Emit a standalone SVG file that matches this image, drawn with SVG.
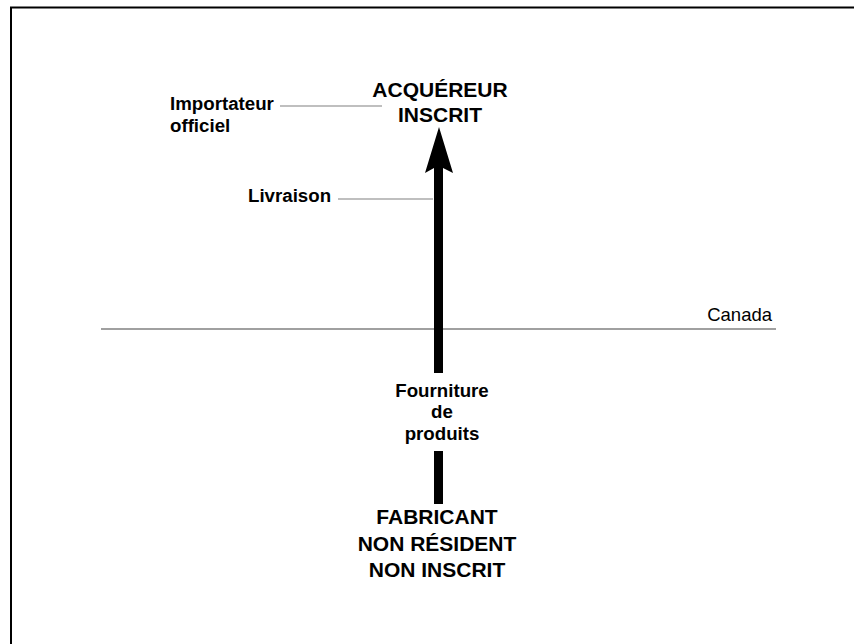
<svg xmlns="http://www.w3.org/2000/svg" width="854" height="644" viewBox="0 0 854 644">
<style>
text{font-family:"Liberation Sans",Arial,sans-serif;fill:#000}
.big{font-size:21px;font-weight:bold;text-anchor:middle}
.lbl{font-size:18.7px;font-weight:bold}
.mid{text-anchor:middle}
.lead{stroke:#808080;stroke-width:1.2;fill:none}
.shaft{fill:#000}
</style>
<rect width="854" height="644" fill="#fff"/>
<path d="M11,644 V7.5 H854" fill="none" stroke="#000" stroke-width="2"/>
<g id="border-line">
<line x1="101" y1="329" x2="776" y2="329" stroke="#808080" stroke-width="1.6"/>
<text x="772" y="320.5" font-size="18.5" text-anchor="end">Canada</text>
</g>
<g id="connectors">
<path class="shaft" d="M439,127 L453,173 L443,168 L443,373 L434,373 L434,168 L425,173 Z"/>
<rect class="shaft" x="434" y="451" width="9" height="53"/>
<line class="lead" x1="280" y1="106" x2="382" y2="106"/>
<line class="lead" x1="338" y1="199" x2="433" y2="199"/>
</g>
<g id="node-acquereur">
<text class="big" x="440" y="96.5">ACQUÉREUR</text>
<text class="big" x="440" y="122">INSCRIT</text>
</g>
<g id="node-fabricant">
<text class="big" x="437" y="524">FABRICANT</text>
<text class="big" x="437" y="550.5">NON RÉSIDENT</text>
<text class="big" x="437" y="577">NON INSCRIT</text>
</g>
<g id="label-importateur">
<text class="lbl" x="170" y="110">Importateur</text>
<text class="lbl" x="170" y="131.7">officiel</text>
</g>
<g id="label-livraison">
<text class="lbl" x="248" y="201.5">Livraison</text>
</g>
<g id="label-fourniture">
<text class="lbl mid" x="442" y="396.5">Fourniture</text>
<text class="lbl mid" x="442" y="418">de</text>
<text class="lbl mid" x="442" y="439.5">produits</text>
</g>
</svg>
